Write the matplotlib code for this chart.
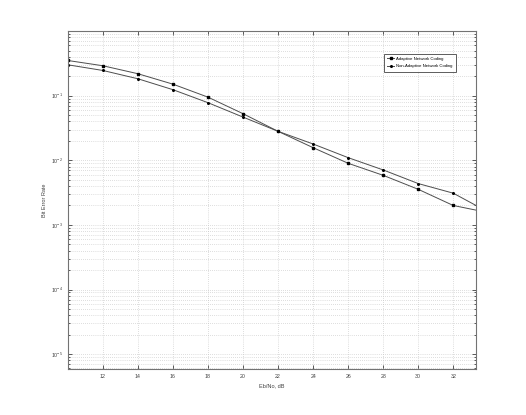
import numpy as np
import matplotlib
matplotlib.use("Agg")
import matplotlib.pyplot as plt
from matplotlib.ticker import LogLocator, NullFormatter

snr_db = [10, 12, 14, 16, 18, 20, 22, 24, 26, 28, 30, 32, 34]
ber_adaptive = [0.351, 0.291, 0.219, 0.151, 0.095, 0.0527, 0.0281, 0.0157,
                0.0090, 0.00586, 0.00356, 0.0020, 0.00155]
ber_non_adaptive = [0.301, 0.246, 0.183, 0.124, 0.078, 0.0467, 0.0281, 0.0179,
                    0.0110, 0.0071, 0.00437, 0.0031, 0.00158]
xticks = [12, 14, 16, 18, 20, 22, 24, 26, 28, 30, 32]

plt.rcParams['font.family'] = ['Liberation Sans', 'DejaVu Sans']

fig = plt.figure(figsize=(5.26, 4.15), dpi=100)
ax = fig.add_axes([0.129, 0.111, 0.776, 0.814])

ax.semilogy(snr_db, ber_adaptive, color='0.3', lw=0.7, marker='s', ms=1.7,
            mfc='black', mec='black', label='Adaptive Network Coding')
ax.semilogy(snr_db, ber_non_adaptive, color='0.3', lw=0.7, marker='.', ms=2.4,
            mfc='black', mec='black', label='Non-Adaptive Network Coding')

ax.set_xlim(10, 33.3)
ax.set_ylim(5.9e-6, 1)
ax.set_xticks(xticks)
ax.yaxis.set_minor_locator(LogLocator(base=10, subs=np.arange(2, 10), numticks=20))
ax.yaxis.set_minor_formatter(NullFormatter())
ax.set_yticks([1e-5, 1e-4, 1e-3, 1e-2, 1e-1])

ax.grid(True, which='major', ls=(0, (1, 2)), color='0.75', lw=0.5)
ax.grid(True, which='minor', axis='y', ls=(0, (1, 2)), color='0.75', lw=0.5)

ax.tick_params(which='both', direction='in', top=True, right=True,
               labelsize=3.8, colors='0.25', length=3, width=0.6)
ax.tick_params(which='minor', length=1.5)
for s in ax.spines.values():
    s.set_color('0.45')
    s.set_linewidth(0.8)

ax.set_xlabel('Eb/No, dB', fontsize=4, color='0.25', labelpad=3)
ax.set_ylabel('Bit Error Rate', fontsize=4, color='0.25', labelpad=3)

leg = ax.legend(loc='upper right', bbox_to_anchor=(0.956, 0.94), fontsize=3.1,
                frameon=True, fancybox=False, handlelength=1.6,
                borderpad=0.8, labelspacing=0.8, handletextpad=0.4)
leg.get_frame().set_edgecolor('0.2')
leg.get_frame().set_linewidth(0.7)

fig.savefig('out.png', dpi=100)
